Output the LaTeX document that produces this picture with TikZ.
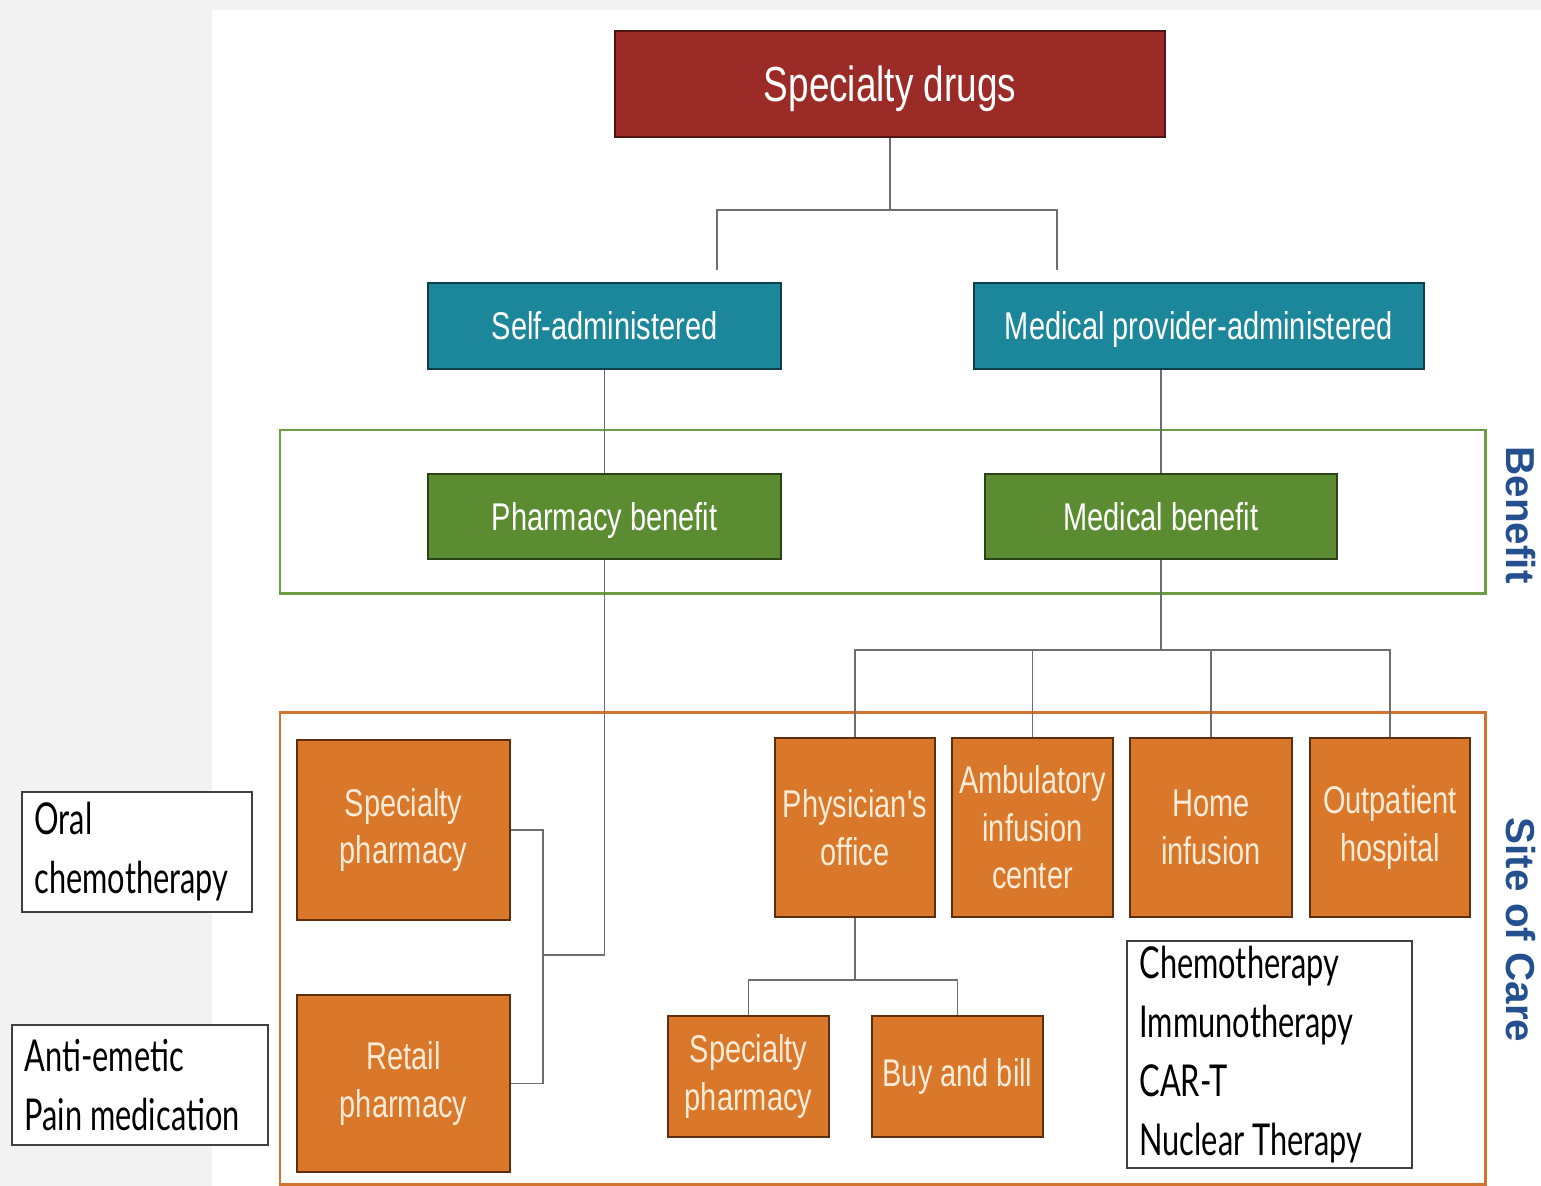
\documentclass[tikz,border=0pt]{standalone}
\usepackage{fontspec}
\setmainfont{Liberation Sans}
\newfontfamily\boxfont[FakeStretch=0.75]{Liberation Sans}
\newfontfamily\listfont[FakeStretch=0.70]{Lato}
\usetikzlibrary{positioning}
\definecolor{drugred}{HTML}{9B2B27}
\definecolor{drugline}{HTML}{4E1512}
\definecolor{tealfill}{HTML}{1C879A}
\definecolor{tealline}{HTML}{0E3F4A}
\definecolor{benfill}{HTML}{5C8C31}
\definecolor{benline}{HTML}{2C4317}
\definecolor{benframe}{HTML}{6E9E42}
\definecolor{carefill}{HTML}{D9772B}
\definecolor{careline}{HTML}{5E2E0E}
\definecolor{careframe}{HTML}{D2742D}
\definecolor{caretext}{HTML}{FFEBD6}
\definecolor{sideblue}{HTML}{24508F}
\definecolor{connline}{HTML}{6E6E6E}
\definecolor{pagegray}{HTML}{F2F2F2}
\begin{document}
\begin{tikzpicture}[x=0.02cm,y=-0.02cm,
  box/.style={draw, line width=1.4pt, inner sep=1pt, align=center, text=white,
    font=\boxfont\fontsize{22}{27}\selectfont},
  oneline/.style={text height=15.8pt, text depth=0pt},
  drugbox/.style={box, oneline, text height=20pt, fill=drugred, draw=drugline, minimum width=11cm,
    minimum height=2.12cm, font=\boxfont\fontsize{28}{32}\selectfont},
  routebox/.style={box, oneline, fill=tealfill, draw=tealline, minimum height=1.72cm},
  benbox/.style={box, oneline, fill=benfill, draw=benline, minimum height=1.7cm},
  carebox/.style={box, fill=carefill, draw=careline, text=caretext},
  notebox/.style={draw=black!75, line width=0.9pt, fill=white, align=flush left, inner xsep=0.25cm,
    inner ysep=0pt, font=\listfont\fontsize{25}{33.5}\selectfont},
  conn/.style={draw=connline, line width=1.1pt},
  sidelabel/.style={rotate=-90, text=sideblue, font=\bfseries\fontsize{23}{26}\selectfont}]
\useasboundingbox (0,0) rectangle (1541,1186);
\fill[pagegray] (0,0) rectangle (1541,1186);
\fill[white] (212,10) rectangle (1541,1186);
\draw[benframe, line width=1.7pt] (280,430) rectangle (1485,593);
\draw[careframe, line width=1.7pt] (280,712) rectangle (1485,1184);
\node[sidelabel] (benefit) at (1521,515) {Benefit};
\node[sidelabel] (siteofcare) at (1521,930) {Site of Care};

\node[drugbox] (drugs) at (890,84) {Specialty drugs};
\node[routebox, minimum width=7.06cm] (selfadm) at (604.5,326) {Self-administered};
\node[routebox, minimum width=9cm] (medprov) at (1199,326) {Medical provider-administered};
\node[benbox, minimum width=7.06cm] (pharmben) at (604.5,516.5) {Pharmacy benefit};
\node[benbox, minimum width=7.04cm] (medben) at (1161,516.5) {Medical benefit};
\node[carebox, minimum width=4.26cm, minimum height=3.6cm] (specph) at (403.5,830) {Specialty\\pharmacy};
\node[carebox, minimum width=4.26cm, minimum height=3.54cm] (retail) at (403.5,1083.5) {Retail\\pharmacy};
\node[carebox, minimum width=3.2cm, minimum height=3.58cm] (physician) at (855,827.5) {Physician's\\office};
\node[carebox, minimum width=3.22cm, minimum height=3.58cm] (ambul) at (1032.5,827.5) {Ambulatory\\infusion\\center};
\node[carebox, minimum width=3.24cm, minimum height=3.58cm] (home) at (1211,827.5) {Home\\infusion};
\node[carebox, minimum width=3.2cm, minimum height=3.58cm] (outpat) at (1390,827.5) {Outpatient\\hospital};
\node[carebox, minimum width=3.22cm, minimum height=2.42cm] (specph2) at (748.5,1076.5) {Specialty\\pharmacy};
\node[carebox, minimum width=3.42cm, minimum height=2.42cm] (buybill) at (957.5,1076.5) {Buy and bill};
\node[notebox, minimum width=5.7cm, minimum height=4.54cm, text width=5.2cm] (therapies) at (1269.5,1054.5)
  {Chemotherapy\\Immunotherapy\\CAR-T\\Nuclear Therapy};
\node[notebox, minimum width=4.6cm, minimum height=2.4cm, text width=4.1cm] (oral) at (137,852) {Oral\\chemotherapy};
\node[notebox, minimum width=5.12cm, minimum height=2.4cm, text width=4.62cm] (antiem) at (140,1085)
  {Anti-emetic\\Pain medication};

\coordinate (split) at (890,210);
\coordinate (selfend) at (717,270);
\coordinate (medend) at (1057,270);
\draw[conn] (drugs.south) -- (split);
\draw[conn] (split) -| (selfend);
\draw[conn] (split) -| (medend);
\draw[conn] (selfadm.south) -- (pharmben.north);
\draw[conn] (medben.north) -- (medben.north |- medprov.south);

\coordinate (pharmbus) at (543,955);
\draw[conn] (pharmben.south) |- (pharmbus);
\draw[conn] (specph.east) -| (pharmbus) |- (retail.east);

\coordinate (medhub) at (1161,650);
\draw[conn] (medben.south) -- (medhub);
\foreach \site in {physician,ambul,home,outpat}
  \draw[conn] (medhub) -| (\site.north);

\coordinate (officehub) at (855,980);
\draw[conn] (physician.south) -- (officehub);
\foreach \site in {specph2,buybill}
  \draw[conn] (officehub) -| (\site.north);
\end{tikzpicture}
\end{document}
